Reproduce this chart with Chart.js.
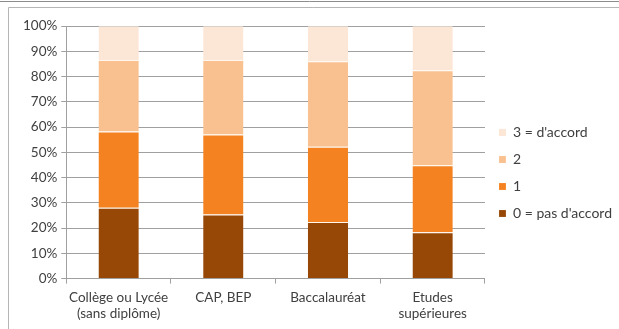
<!DOCTYPE html>
<html>
<head>
<meta charset="utf-8">
<script src="https://cdn.jsdelivr.net/npm/chart.js@4"></script>
<style>
  html, body { margin: 0; padding: 0; background: #fff; }
</style>
</head>
<body>
<canvas id="niveauChart" width="619" height="329"></canvas>
<script>
// données (en %)
const categories = [['Collège ou Lycée', '(sans diplôme)'], 'CAP, BEP', 'Baccalauréat', ['Etudes', 'supérieures']];
const pasDAccord = [28, 25.4, 22.4, 18.3];
const niveau1 = [30.2, 31.6, 29.8, 26.6];
const niveau2 = [28.3, 29.5, 33.8, 37.6];
const dAccord = [13.5, 13.5, 14, 17.5];
const yTicks = [0, 10, 20, 30, 40, 50, 60, 70, 80, 90, 100];

const ctx = document.getElementById('niveauChart').getContext('2d');

const frame = {
  id: 'frame',
  afterLayout(chart) {
    // légende un peu plus haut, comme dans l'original
    const lg = chart.legend;
    lg.top -= 4; lg.bottom -= 4;
    lg.left += 1; lg.right += 1;
  },
  beforeDraw(chart) {
    const c = chart.ctx;
    c.save();
    c.strokeStyle = '#8c8c8c';
    c.lineWidth = 1;
    c.beginPath();
    c.moveTo(0, 1.5); c.lineTo(619, 1.5);
    c.stroke();
    c.strokeStyle = '#b5b5b5';
    c.beginPath();
    c.moveTo(8.5, 329); c.lineTo(8.5, 7.5); c.lineTo(619, 7.5);
    c.stroke();
    c.restore();
  }
};

const sep = { top: 1, left: 0, right: 0, bottom: 0 };

new Chart(ctx, {
  type: 'bar',
  data: {
    labels: categories,
    datasets: [
      { label: '0 = pas d\'accord', data: pasDAccord, backgroundColor: '#974706' },
      { label: '1', data: niveau1, backgroundColor: '#F58220' },
      { label: '2', data: niveau2, backgroundColor: '#FAC190' },
      { label: '3 = d\'accord', data: dAccord, backgroundColor: '#FCE6D6' }
    ]
  },
  options: {
    responsive: false,
    animation: false,
    datasets: {
      bar: {
        barPercentage: 0.385,
        categoryPercentage: 1,
        borderWidth: sep,
        borderColor: 'rgba(255,240,225,0.6)'
      }
    },
    layout: { padding: { left: 19, top: 26, right: -2, bottom: 1 } },
    plugins: {
      tooltip: { enabled: false },
      legend: {
        position: 'right',
        reverse: true,
        labels: {
          boxWidth: 7,
          boxHeight: 7,
          padding: 13,
          color: '#404040',
          font: { family: 'Lato', size: 14 }
        }
      }
    },
    scales: {
      x: {
        stacked: true,
        grid: { display: true, drawOnChartArea: false, offset: true, tickLength: 5, color: '#a0a0a0' },
        border: { display: true, color: '#a0a0a0' },
        ticks: { color: '#404040', maxRotation: 0, padding: 6, font: { family: 'Lato', size: 13.5 } }
      },
      y: {
        stacked: true,
        min: 0,
        max: 100,
        afterBuildTicks: (axis) => { axis.ticks = yTicks.map(v => ({ value: v })); },
        grid: { color: '#a0a0a0', tickLength: 5 },
        border: { display: true, color: '#a0a0a0' },
        ticks: {
          color: '#404040',
          padding: 4,
          font: { family: 'Lato', size: 13.5 },
          callback: (v) => v + '%'
        }
      }
    }
  },
  plugins: [frame]
});
</script>
</body>
</html>
